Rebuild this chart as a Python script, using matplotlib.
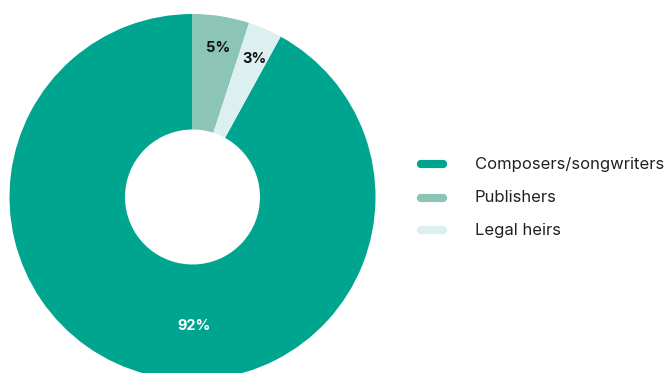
import matplotlib
matplotlib.use("Agg")
import matplotlib.pyplot as plt
from matplotlib.patches import FancyBboxPatch
import numpy as np

categories = ["Composers/songwriters", "Publishers", "Legal heirs"]
values = [92, 5, 3]
colors = ["#00A58F", "#8CC4B5", "#DCEFF1"]
label_colors = ["white", "#111111", "#111111"]

plt.rcParams['font.family'] = ['Inter', 'DejaVu Sans']

W, H = 670, 373
fig = plt.figure(figsize=(W / 100, H / 100), dpi=100)
ax = fig.add_axes([0, 0, 1, 1])

cx, cy, R = 192.5, H - 197.0, 183.0
hole = 67.5
start = 90 - (values[1] + values[2]) / sum(values) * 360
wedges, _ = ax.pie(values, colors=colors, startangle=start, counterclock=False,
                   radius=R, center=(cx, cy), frame=True,
                   wedgeprops=dict(width=R - hole, linewidth=0))
ax.set_xlim(0, W)
ax.set_ylim(0, H)
ax.set_aspect('equal')
ax.axis('off')

# percentage labels
for i, (w, v) in enumerate(zip(wedges, values)):
    if i == 0:
        ang = -90
        r = 0.70 * R
    else:
        ang = (w.theta1 + w.theta2) / 2
        r = 0.83 * R
    x = cx + r * np.cos(np.radians(ang))
    y = cy + r * np.sin(np.radians(ang))
    ax.text(x + 2, y - 1, f"{v}%", ha='center', va='center', fontsize=10.5,
            fontweight='bold', color=label_colors[i])

# legend
ys = [164, 198, 230]
for cat, col, yy in zip(categories, colors, ys):
    y = H - yy
    p = FancyBboxPatch((419, y - 2), 26, 4, boxstyle="round,pad=0,rounding_size=2",
                       mutation_aspect=1, facecolor=col, edgecolor=col, linewidth=3)
    ax.add_patch(p)
    ax.text(475, y, cat, ha='left', va='center', fontsize=12, color='#222222')

fig.savefig("out.png", dpi=100)
